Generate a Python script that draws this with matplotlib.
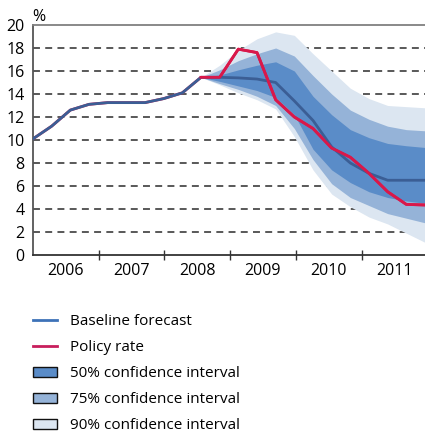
import numpy as np
import matplotlib
matplotlib.use("Agg")
import matplotlib.pyplot as plt
from matplotlib.patches import Patch
from matplotlib.lines import Line2D

plt.rcParams['font.family'] = ['Open Sans', 'DejaVu Sans']
plt.rcParams['lines.scale_dashes'] = False

# quarterly observations, history up to index 9, forecast afterwards
baseline = [10.1, 11.2, 12.6, 13.1, 13.25, 13.25, 13.25, 13.6, 14.1, 15.45,
            15.45, 15.4, 15.3, 15.0, 13.4, 11.7, 9.4, 8.0, 7.1, 6.5, 6.5, 6.5]
policy = [10.1, 11.2, 12.6, 13.1, 13.25, 13.25, 13.25, 13.6, 14.1, 15.45,
          15.45, 17.9, 17.6, 13.5, 12.0, 11.0, 9.3, 8.5, 7.1, 5.5, 4.4, 4.35]

# confidence bands, from index 9 onwards
hi50 = [15.45, 15.65, 16.1, 16.5, 16.8, 16.0, 13.8, 12.2, 10.9, 10.2, 9.7, 9.5, 9.35]
lo50 = [15.45, 15.1, 14.7, 14.3, 13.7, 12.2, 9.2, 7.4, 6.3, 5.5, 5.0, 4.7, 4.5]
hi75 = [15.45, 16.1, 16.9, 17.5, 18.0, 17.3, 15.6, 14.0, 12.6, 11.8, 11.2, 10.9, 10.8]
lo75 = [15.45, 14.9, 14.4, 13.8, 13.0, 11.0, 8.3, 6.2, 5.0, 4.3, 3.6, 3.2, 2.8]
hi90 = [15.45, 16.5, 17.8, 18.8, 19.4, 19.1, 17.5, 16.0, 14.5, 13.6, 13.0, 12.9, 12.8]
lo90 = [15.45, 14.8, 14.1, 13.5, 12.7, 10.3, 7.4, 5.3, 4.2, 3.3, 2.7, 1.9, 1.1]

years = ['2006', '2007', '2008', '2009', '2010', '2011']
per_year = 3.52  # observations per year on the time axis

c50, c75, c90 = '#5A8CC8', '#95B3D8', '#DCE6F1'
c_base, c_pol = '#3B5E95', '#D9184A'

fig = plt.figure(figsize=(4.25, 4.36), dpi=100)
ax = fig.add_axes([0.0776, 0.4151, 0.9224, 0.5276])

x = np.arange(len(baseline))
xf = x[9:]

for v in range(2, 20, 2):
    ax.axhline(v, color='#2b2b2b', lw=1.1, ls=(0, (5, 3.8)), zorder=0)

ax.fill_between(xf, lo90, hi90, color=c90, lw=0, zorder=1)
ax.fill_between(xf, lo75, hi75, color=c75, lw=0, zorder=1)
ax.fill_between(xf, lo50, hi50, color=c50, lw=0, zorder=1)

ax.plot(x, policy, color=c_pol, lw=2.0, zorder=2)
ax.plot(x, baseline, color=c_base, lw=2.0, zorder=3)
ax.plot(xf, policy[9:], color=c_pol, lw=2.0, zorder=4)

ax.set_xlim(0, 21)
ax.set_ylim(0, 20)
ax.set_yticks(range(0, 21, 2))
ax.tick_params(axis='y', length=0, labelsize=11.5, pad=6)

bounds = np.arange(len(years) + 1) * per_year
ax.set_xticks(bounds[1:-1])
ax.set_xticklabels([])
ax.set_xticks((bounds[:-1] + bounds[1:]) / 2, minor=True)
ax.set_xticklabels(years, minor=True, fontsize=11.5)
ax.tick_params(axis='x', which='major', direction='inout', length=7, width=1, color='#333333')
ax.tick_params(axis='x', which='minor', length=0, pad=6)

ax.spines['right'].set_visible(False)
ax.spines['top'].set_color('#808080')
ax.spines['top'].set_linewidth(1.3)
ax.spines['left'].set_color('#555555')
ax.spines['left'].set_linewidth(1.3)
ax.spines['bottom'].set_color('#333333')
ax.spines['bottom'].set_linewidth(1.3)

fig.text(0.075, 0.962, '%', fontsize=11.5, ha='left', va='center')

handles = [
    Line2D([], [], color='#3D72B8', lw=2.0),
    Line2D([], [], color='#C81E5C', lw=2.0),
    Patch(facecolor=c50, edgecolor='#111111', lw=1.0),
    Patch(facecolor=c75, edgecolor='#111111', lw=1.0),
    Patch(facecolor=c90, edgecolor='#111111', lw=1.0),
]
labels = ['Baseline forecast', 'Policy rate', '50% confidence interval',
          '75% confidence interval', '90% confidence interval']
fig.legend(handles, labels, loc='upper left', bbox_to_anchor=(0.063, 0.293),
           frameon=False, fontsize=11, handlelength=1.6, handleheight=0.65,
           handletextpad=0.85, labelspacing=0.72, borderaxespad=0)

fig.savefig('out.png', dpi=100)
